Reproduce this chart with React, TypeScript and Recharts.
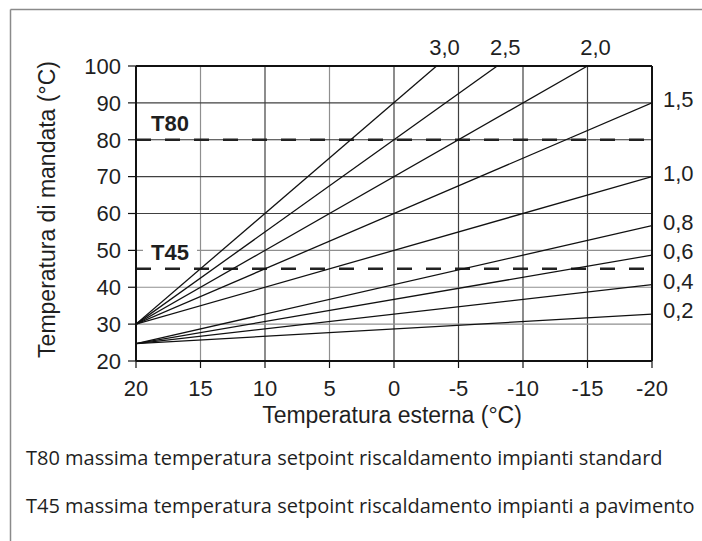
import React from 'react';
import { LineChart, Line, XAxis, YAxis, ReferenceLine, LabelList, Label } from 'recharts';

type Pt = { est: number; mand: number };

const xTicks = [20, 15, 10, 5, 0, -5, -10, -15, -20];
const yTicks = [20, 30, 40, 50, 60, 70, 80, 90, 100];
const xGridDark = [10, 0, -5, -10, -15];
const xGridLight = [15, 5];
const yGridDark = [60, 70, 90];
const yGridLight = [30, 40, 50];

const curveNames = ['3,0', '2,5', '2,0', '1,5', '1,0', '0,8', '0,6', '0,4', '0,2'];
const curve30: Pt[] = [{ est: 20, mand: 30 }, { est: -3.3, mand: 100 }];
const curve25: Pt[] = [{ est: 20, mand: 30 }, { est: -8, mand: 100 }];
const curve20: Pt[] = [{ est: 20, mand: 30 }, { est: -15, mand: 100 }];
const curve15: Pt[] = [{ est: 20, mand: 30 }, { est: -20, mand: 90 }];
const curve10: Pt[] = [{ est: 20, mand: 30 }, { est: -20, mand: 70 }];
const curve08: Pt[] = [{ est: 20, mand: 24.7 }, { est: -20, mand: 56.7 }];
const curve06: Pt[] = [{ est: 20, mand: 24.7 }, { est: -20, mand: 48.7 }];
const curve04: Pt[] = [{ est: 20, mand: 24.7 }, { est: -20, mand: 40.7 }];
const curve02: Pt[] = [{ est: 20, mand: 24.7 }, { est: -20, mand: 32.7 }];
const curves = [curve30, curve25, curve20, curve15, curve10, curve08, curve06, curve04, curve02];

const limitValues = [80, 45];
const limitNames = ['T80', 'T45'];

const xTitle = 'Temperatura esterna (°C)';
const yTitle = 'Temperatura di mandata (°C)';
const footnotes = [
  'T80 massima temperatura setpoint riscaldamento impianti standard',
  'T45 massima temperatura setpoint riscaldamento impianti a pavimento',
];

const FONT = '"Liberation Sans", Arial, Helvetica, sans-serif';
const INK = '#1f1f1f';

const makeCurveLabel = (name: string, lastIndex: number) => (props: any) => {
  const x = props.x ?? props.viewBox?.x;
  const y = props.y ?? props.viewBox?.y;
  if (props.index !== lastIndex || x == null || y == null) return null;
  const atTop = Number(props.value) >= 100;
  if (atTop) {
    return (
      <text x={x + 8} y={y - 11} textAnchor="middle" style={{ fontSize: 22, fontFamily: FONT }} fill={INK}>
        {name}
      </text>
    );
  }
  return (
    <text x={x + 11} y={y + 4} textAnchor="start" style={{ fontSize: 22, fontFamily: FONT }} fill={INK}>
      {name}
    </text>
  );
};

const makeLimitLabel = (name: string) => (props: any) => {
  const vb = props.viewBox || {};
  const x = vb.x ?? 136;
  const y = vb.y ?? 0;
  return (
    <g>
      <rect x={x + 7} y={y - 30} width={54} height={22} fill="#ffffff" />
      <text x={x + 15} y={y - 9} style={{ fontSize: 22, fontWeight: 'bold', fontFamily: FONT }} fill={INK}>
        {name}
      </text>
    </g>
  );
};

const renderXTitle = (props: any) => {
  const vb = props.viewBox || { x: 136, y: 361, width: 516 };
  return (
    <text x={vb.x + vb.width / 2 - 2} y={vb.y + 62} textAnchor="middle" style={{ fontSize: 23, fontFamily: FONT }} fill={INK}>
      {xTitle}
    </text>
  );
};

const renderYTitle = (props: any) => {
  const vb = props.viewBox || { x: 76, y: 66, width: 60, height: 295 };
  const cx = vb.x - 21;
  const cy = vb.y + vb.height / 2 - 4;
  return (
    <text
      x={cx}
      y={cy}
      transform={`rotate(-90, ${cx}, ${cy})`}
      textAnchor="middle"
      style={{ fontSize: 23, fontFamily: FONT }}
      fill={INK}
    >
      {yTitle}
    </text>
  );
};

export default function App() {
  return (
    <div style={{ position: 'absolute', left: 0, top: 0, width: 702, height: 541, background: '#fff', overflow: 'hidden' }}>
      <div style={{ position: 'absolute', left: 0, top: 0 }}>
        <LineChart width={702} height={440} margin={{ top: 66, right: 50, bottom: 0, left: 76 }}>
          <XAxis
            type="number"
            dataKey="est"
            domain={[-20, 20]}
            reversed
            ticks={xTicks}
            interval={0}
            allowDataOverflow
            height={79}
            tickSize={7}
            tickMargin={12}
            axisLine={{ stroke: '#111', strokeWidth: 2 }}
            tickLine={{ stroke: '#111', strokeWidth: 1.2 }}
            tick={{ fontSize: 22, fontFamily: FONT, fill: INK }}
          >
            <Label content={renderXTitle} />
          </XAxis>
          <YAxis
            type="number"
            dataKey="mand"
            domain={[20, 100]}
            ticks={yTicks}
            interval={0}
            allowDataOverflow
            width={60}
            tickSize={8}
            tickMargin={7}
            axisLine={{ stroke: '#111', strokeWidth: 2 }}
            tickLine={{ stroke: '#111', strokeWidth: 1.2 }}
            tick={{ fontSize: 22, fontFamily: FONT, fill: INK }}
          >
            <Label content={renderYTitle} />
          </YAxis>

          {xGridLight.map((v) => (
            <ReferenceLine key={`xl${v}`} x={v} stroke="#8f8f8f" strokeWidth={1.2} />
          ))}
          {xGridDark.map((v) => (
            <ReferenceLine key={`xd${v}`} x={v} stroke="#404040" strokeWidth={1.2} />
          ))}
          {yGridLight.map((v) => (
            <ReferenceLine key={`yl${v}`} y={v} stroke="#8f8f8f" strokeWidth={1.2} />
          ))}
          {yGridDark.map((v) => (
            <ReferenceLine key={`yd${v}`} y={v} stroke="#404040" strokeWidth={1.2} />
          ))}
          <ReferenceLine y={80} stroke="#333" strokeWidth={1.2} />
          <ReferenceLine y={100} stroke="#111" strokeWidth={2} />
          <ReferenceLine x={-20} stroke="#111" strokeWidth={2} />

          {limitValues.map((v, i) => (
            <ReferenceLine
              key={`lim${v}`}
              y={v}
              stroke="#222"
              strokeWidth={2.5}
              strokeDasharray="15 14"
              label={makeLimitLabel(limitNames[i])}
            />
          ))}

          {curves.map((c, i) => (
            <Line
              key={curveNames[i]}
              data={c}
              dataKey="mand"
              type="linear"
              stroke="#111"
              strokeWidth={1.3}
              dot={false}
              activeDot={false}
              isAnimationActive={false}
            >
              <LabelList dataKey="mand" content={makeCurveLabel(curveNames[i], c.length - 1)} />
            </Line>
          ))}
        </LineChart>
      </div>
      <svg width={702} height={541} style={{ position: 'absolute', left: 0, top: 0, pointerEvents: 'none' }}>
        <line x1={10.5} y1={9.5} x2={702} y2={9.5} stroke="#8a8a8a" strokeWidth={1.5} />
        <line x1={10.5} y1={9.5} x2={10.5} y2={541} stroke="#8a8a8a" strokeWidth={1.5} />
        {footnotes.map((t, i) => (
          <text key={t} x={26} y={465 + i * 48} style={{ fontSize: 20, fontFamily: '"Open Sans", "Noto Sans", sans-serif' }} fill={INK}>
            {t}
          </text>
        ))}
      </svg>
    </div>
  );
}
